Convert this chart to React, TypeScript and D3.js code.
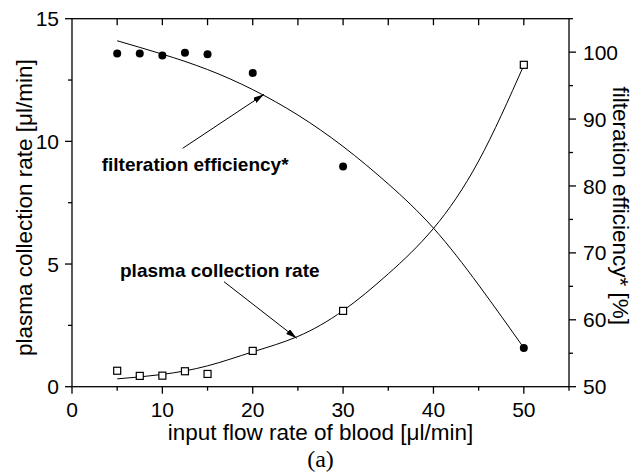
import React from "react";
import * as d3 from "d3";

// ---- data ----
const flowRates = [5, 7.5, 10, 12.5, 15, 20, 30, 50];
const plasmaRate = [0.65, 0.44, 0.45, 0.63, 0.52, 1.46, 3.09, 13.12];
const efficiency = [99.8, 99.8, 99.5, 99.9, 99.7, 96.9, 82.9, 55.8];

const fitX = [5, 10, 15, 20, 25, 30, 35, 40, 45, 50];
const plasmaFit = [0.32, 0.5, 0.85, 1.42, 2.05, 3.1, 4.6, 6.45, 9.2, 13.1];
const efficiencyFit = [101.7, 99.7, 97.4, 94.4, 90.6, 85.9, 80.3, 73.7, 65.2, 55.8];

const xTicks = [0, 10, 20, 30, 40, 50];
const xMinor = [5, 15, 25, 35, 45, 55];
const yLeftTicks = [0, 5, 10, 15];
const yLeftMinor = [2.5, 7.5, 12.5];
const yRightTicks = [50, 60, 70, 80, 90, 100];
const yRightMinor = [55, 65, 75, 85, 95, 105];

const W = 643;
const H = 475;
const L = 72, R = 569, T = 18.7, B = 386.7;

export default function App() {
  const x = d3.scaleLinear().domain([0, 55]).range([L, R]);
  const yL = d3.scaleLinear().domain([0, 15]).range([B, T]);
  const yR = d3.scaleLinear().domain([50, 105]).range([B, T]);

  const plasmaLine = d3
    .line<number>()
    .x((_, i) => x(fitX[i]))
    .y((d) => yL(d))
    .curve(d3.curveNatural)(plasmaFit) as string;
  const effLine = d3
    .line<number>()
    .x((_, i) => x(fitX[i]))
    .y((d) => yR(d))
    .curve(d3.curveNatural)(efficiencyFit) as string;

  const font = "'Liberation Sans', Arial, Helvetica, sans-serif";
  const sw = 1.3;

  return (
    <svg
      width={W}
      height={H}
      style={{ position: "absolute", left: 0, top: 0, background: "#fff" }}
      fontFamily={font}
    >
      <defs>
        <marker id="ah" viewBox="0 0 11 6" refX="11" refY="3" markerWidth="11" markerHeight="6" markerUnits="userSpaceOnUse" orient="auto">
          <path d="M0,0 L11,3 L0,6 Z" fill="#000" />
        </marker>
      </defs>
      {/* frame */}
      <rect x={L} y={T} width={R - L} height={B - T} fill="none" stroke="#000" strokeWidth={sw} />

      {/* bottom axis ticks */}
      {xTicks.map((t) => (
        <g key={"xt" + t}>
          <line x1={x(t)} x2={x(t)} y1={B} y2={B + 7} stroke="#000" strokeWidth={sw} />
          <text x={x(t)} y={B + 30} fontSize={21} textAnchor="middle">{t}</text>
        </g>
      ))}
      {xMinor.map((t) => (
        <line key={"xm" + t} x1={x(t)} x2={x(t)} y1={B} y2={B + 4} stroke="#000" strokeWidth={sw} />
      ))}
      {/* top axis ticks (inward) */}
      {[...xTicks, ...xMinor].filter((t) => t > 0 && t < 55).map((t) => (
        <line key={"tt" + t} x1={x(t)} x2={x(t)} y1={T} y2={T + 6.5} stroke="#000" strokeWidth={sw} />
      ))}

      {/* left axis */}
      {yLeftTicks.map((t) => (
        <g key={"yl" + t}>
          <line x1={L - 7} x2={L} y1={yL(t)} y2={yL(t)} stroke="#000" strokeWidth={sw} />
          <text x={L - 13} y={yL(t)} dy="0.36em" fontSize={21} textAnchor="end">{t}</text>
        </g>
      ))}
      {yLeftMinor.map((t) => (
        <line key={"ylm" + t} x1={L - 4} x2={L} y1={yL(t)} y2={yL(t)} stroke="#000" strokeWidth={sw} />
      ))}

      {/* right axis */}
      {yRightTicks.map((t) => (
        <g key={"yr" + t}>
          <line x1={R} x2={R + 7} y1={yR(t)} y2={yR(t)} stroke="#000" strokeWidth={sw} />
          <text x={R + 14} y={yR(t)} dy="0.36em" fontSize={21} textAnchor="start">{t}</text>
        </g>
      ))}
      {yRightMinor.map((t) => (
        <line key={"yrm" + t} x1={R} x2={R + 4} y1={yR(t)} y2={yR(t)} stroke="#000" strokeWidth={sw} />
      ))}

      {/* axis titles */}
      <text x={(L + R) / 2} y={440} fontSize={22.5} textAnchor="middle">input flow rate of blood [μl/min]</text>
      <text x={(L + R) / 2} y={467} fontSize={24} textAnchor="middle" fontFamily="'Liberation Serif', 'Times New Roman', serif">(a)</text>
      <text transform={`translate(32,${(T + B) / 2 + 5}) rotate(-90)`} fontSize={22.5} textAnchor="middle">plasma collection rate [μl/min]</text>
      <text transform={`translate(613,${(T + B) / 2 + 3}) rotate(90)`} fontSize={22.5} textAnchor="middle">filteration efficiency* [%]</text>

      {/* fit curves */}
      <path d={plasmaLine} fill="none" stroke="#000" strokeWidth={1} />
      <path d={effLine} fill="none" stroke="#000" strokeWidth={1} />

      {/* markers */}
      {flowRates.map((f, i) => (
        <rect key={"sq" + i} x={x(f) - 3.5} y={yL(plasmaRate[i]) - 3.5} width={7} height={7} fill="#fff" stroke="#000" strokeWidth={1.2} />
      ))}
      {flowRates.map((f, i) => (
        <circle key={"c" + i} cx={x(f)} cy={yR(efficiency[i])} r={4} fill="#000" />
      ))}

      {/* annotations */}
      <text x={101.7} y={171} fontSize={19} fontWeight="bold">filteration efficiency*</text>
      <line x1={182.7} y1={148.3} x2={264} y2={94.3} stroke="#000" strokeWidth={1} markerEnd="url(#ah)" />
      <text x={120} y={277} fontSize={19} fontWeight="bold">plasma collection rate</text>
      <line x1={224} y1={281.7} x2={296.7} y2={338.3} stroke="#000" strokeWidth={1} markerEnd="url(#ah)" />
    </svg>
  );
}
